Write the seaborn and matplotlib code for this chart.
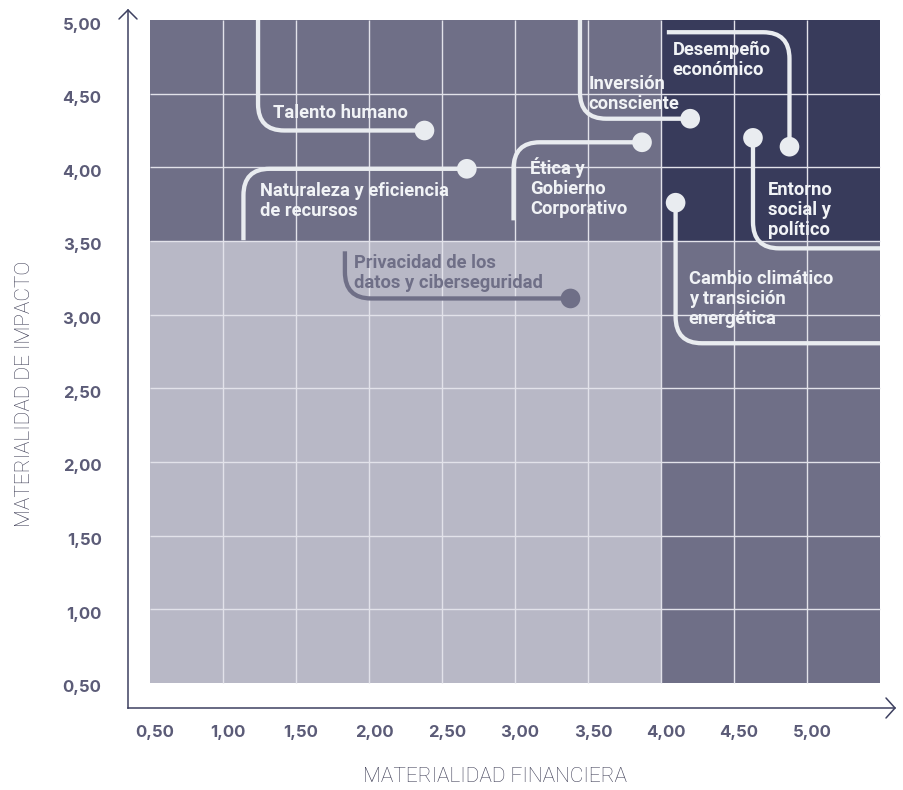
import matplotlib
matplotlib.use("Agg")
import matplotlib.pyplot as plt
from matplotlib.path import Path
from matplotlib.patches import PathPatch
from matplotlib.transforms import ScaledTranslation
import numpy as np
import pandas as pd
import seaborn as sns

# ---------------- data ----------------
topics = [
    "Talento humano",
    "Naturaleza y eficiencia\nde recursos",
    "Privacidad de los\ndatos y ciberseguridad",
    "Ética y\nGobierno\nCorporativo",
    "Inversión\nconsciente",
    "Desempeño\neconómico",
    "Entorno\nsocial y\npolítico",
    "Cambio climático\ny transición\nenergética",
]
financial = [2.38, 2.67, 3.38, 3.87, 4.20, 4.88, 4.63, 4.10]
impact = [4.25, 3.99, 3.11, 4.17, 4.33, 4.14, 4.20, 3.76]

x_ticks = [0.5, 1.0, 1.5, 2.0, 2.5, 3.0, 3.5, 4.0, 4.5, 5.0]
x_tick_labels = ["0,50", "1,00", "1,50", "2,00", "2,50", "3,00", "3,50", "4,00", "4,50", "5,00"]
y_ticks = [0.5, 1.0, 1.5, 2.0, 2.5, 3.0, 3.5, 4.0, 4.5, 5.0]
y_tick_labels = ["0,50", "1,00", "1,50", "2,00", "2,50", "3,00", "3,50", "4,00", "4,50", "5,00"]

x_range = (0.5, 5.5)
y_range = (0.5, 5.0)
fin_threshold = 4.0
imp_threshold = 3.5

# ---------------- annotation layout (leader lines & label anchors) ----------------
# kind "h": horizontal from dot to corner x, then vertical to end y
# kind "v": vertical from dot to corner y, then horizontal to end x
leaders = [
    ("h", 1.24, 5.00),
    ("h", 1.14, 3.505),
    ("h", 1.835, 3.43),
    ("h", 2.99, 3.64),
    ("h", 3.445, 5.00),
    ("v", 4.917, 4.04),
    ("v", 3.45, 5.50),
    ("v", 2.806, 5.50),
]
label_pos = [
    (1.34, 4.37),
    (1.25, 3.77),
    (1.90, 3.285),
    (3.105, 3.86),
    (3.505, 4.50),
    (4.08, 4.73),
    (4.73, 3.71),
    (4.19, 3.107),
]

# ---------------- style ----------------
C_DARK = "#383b5b"
C_MID = "#6f6f87"
C_LIGHT = "#b8b8c6"
C_GRID = "#e2e2ea"
C_LINE = "#e9ecf0"
C_AXIS = "#3d4060"
C_TICK = "#5b5b77"
C_TITLE = "#3e3e56"

sns.set_style("white")
plt.rcParams["font.family"] = ["Inter", "DejaVu Sans"]

W, H = 904, 790
fig = plt.figure(figsize=(W / 100, H / 100), dpi=100)
ax_l, ax_r, ax_t, ax_b = 128, 895, 10, 708
ax = fig.add_axes([ax_l / W, (H - ax_b) / H, (ax_r - ax_l) / W, (ax_b - ax_t) / H])

px_x = 146.0   # pixels per unit
px_y = 147.33
ax.set_xlim(x_range[0] - (150 - ax_l) / px_x, x_range[1] + (ax_r - 880) / px_x)
ax.set_ylim(y_range[0] - (ax_b - 683) / px_y, y_range[1] + (20 - ax_t) / px_y)

# quadrants
quads = [
    ((x_range[0], fin_threshold), (y_range[0], imp_threshold), C_LIGHT),
    ((x_range[0], fin_threshold), (imp_threshold, y_range[1]), C_MID),
    ((fin_threshold, x_range[1]), (y_range[0], imp_threshold), C_MID),
    ((fin_threshold, x_range[1]), (imp_threshold, y_range[1]), C_DARK),
]
for (x0, x1), (y0, y1), c in quads:
    ax.fill_between([x0, x1], y0, y1, color=c, lw=0, zorder=0)

# grid lines inside the coloured area
ax.vlines(x_ticks[1:], y_range[0], y_range[1], color=C_GRID, lw=1.0, zorder=1)
ax.hlines(y_ticks[1:-1], x_range[0], x_range[1], color=C_GRID, lw=1.0, zorder=1)

# leader lines
r = 0.18
for fx, iy, (kind, a, b), in zip(financial, impact, leaders):
    p0 = np.array([fx, iy])
    if kind == "h":
        p1 = np.array([a, iy]); p2 = np.array([a, b])
    else:
        p1 = np.array([fx, a]); p2 = np.array([b, a])
    d1 = (p1 - p0) / np.linalg.norm(p1 - p0)
    d2 = (p2 - p1) / np.linalg.norm(p2 - p1)
    verts = [p0, p1 - d1 * r, p1, p1 + d2 * r, p2]
    codes = [Path.MOVETO, Path.LINETO, Path.CURVE3, Path.CURVE3, Path.LINETO]
    col = C_LINE if iy >= imp_threshold else C_MID
    ax.add_patch(PathPatch(Path(verts, codes), fill=False, ec=col, lw=3.1,
                           capstyle="butt", joinstyle="round", zorder=3))

# dots
df = pd.DataFrame({"topic": topics, "financial": financial, "impact": impact})
palette = {t: (C_LINE if i >= imp_threshold else C_MID) for t, i in zip(topics, impact)}
sns.scatterplot(data=df, x="financial", y="impact", hue="topic", palette=palette,
                s=200, edgecolor="none", linewidth=0, legend=False, ax=ax, zorder=4)

# labels
for t, iy, (lx, ly) in zip(topics, impact, label_pos):
    col = "#f1f3f6" if iy >= imp_threshold else C_MID
    ax.text(lx, ly, t, ha="left", va="center", color=col, fontsize=13.2,
            fontweight="bold", linespacing=1.14, zorder=5,
            family=["Roboto", "DejaVu Sans"])

# axes / ticks
for s in ["top", "right"]:
    ax.spines[s].set_visible(False)
for s in ["left", "bottom"]:
    ax.spines[s].set_color(C_AXIS)
    ax.spines[s].set_linewidth(1.1)

ax.set_xticks(x_ticks, x_tick_labels)
ax.set_yticks(y_ticks, y_tick_labels)
ax.tick_params(axis="both", length=0, labelsize=12, labelcolor=C_TICK)
ax.tick_params(axis="x", pad=12)
ax.tick_params(axis="y", pad=19)
for lab in ax.get_xticklabels() + ax.get_yticklabels():
    lab.set_fontweight("bold")
for lab in ax.get_xticklabels():
    lab.set_transform(lab.get_transform() + ScaledTranslation(5 / 100, 0, fig.dpi_scale_trans))
for lab in ax.get_yticklabels():
    lab.set_transform(lab.get_transform() + ScaledTranslation(0, -3.5 / 100, fig.dpi_scale_trans))
ax.set_xlabel("")
ax.set_ylabel("")

# arrow heads
ax.plot([-9 / (ax_r - ax_l), 0, 9 / (ax_r - ax_l)], [1 - 9 / (ax_b - ax_t), 1, 1 - 9 / (ax_b - ax_t)],
        transform=ax.transAxes, color=C_AXIS, lw=1.1, clip_on=False)
ax.plot([1 - 9 / (ax_r - ax_l), 1, 1 - 9 / (ax_r - ax_l)], [10 / (ax_b - ax_t), 0, -10 / (ax_b - ax_t)],
        transform=ax.transAxes, color=C_AXIS, lw=1.1, clip_on=False)

# axis titles
fig.text(495 / W, 1 - 776 / H, "MATERIALIDAD FINANCIERA", ha="center", va="center",
         fontsize=15, color=C_TITLE, fontweight="light", family=["Roboto", "DejaVu Sans"])
fig.text(25 / W, 1 - 394 / H, "MATERIALIDAD DE IMPACTO", ha="center", va="center",
         rotation=90, fontsize=15, color=C_TITLE, fontweight="light",
         family=["Roboto", "DejaVu Sans"])

fig.savefig("out.png", dpi=100)
